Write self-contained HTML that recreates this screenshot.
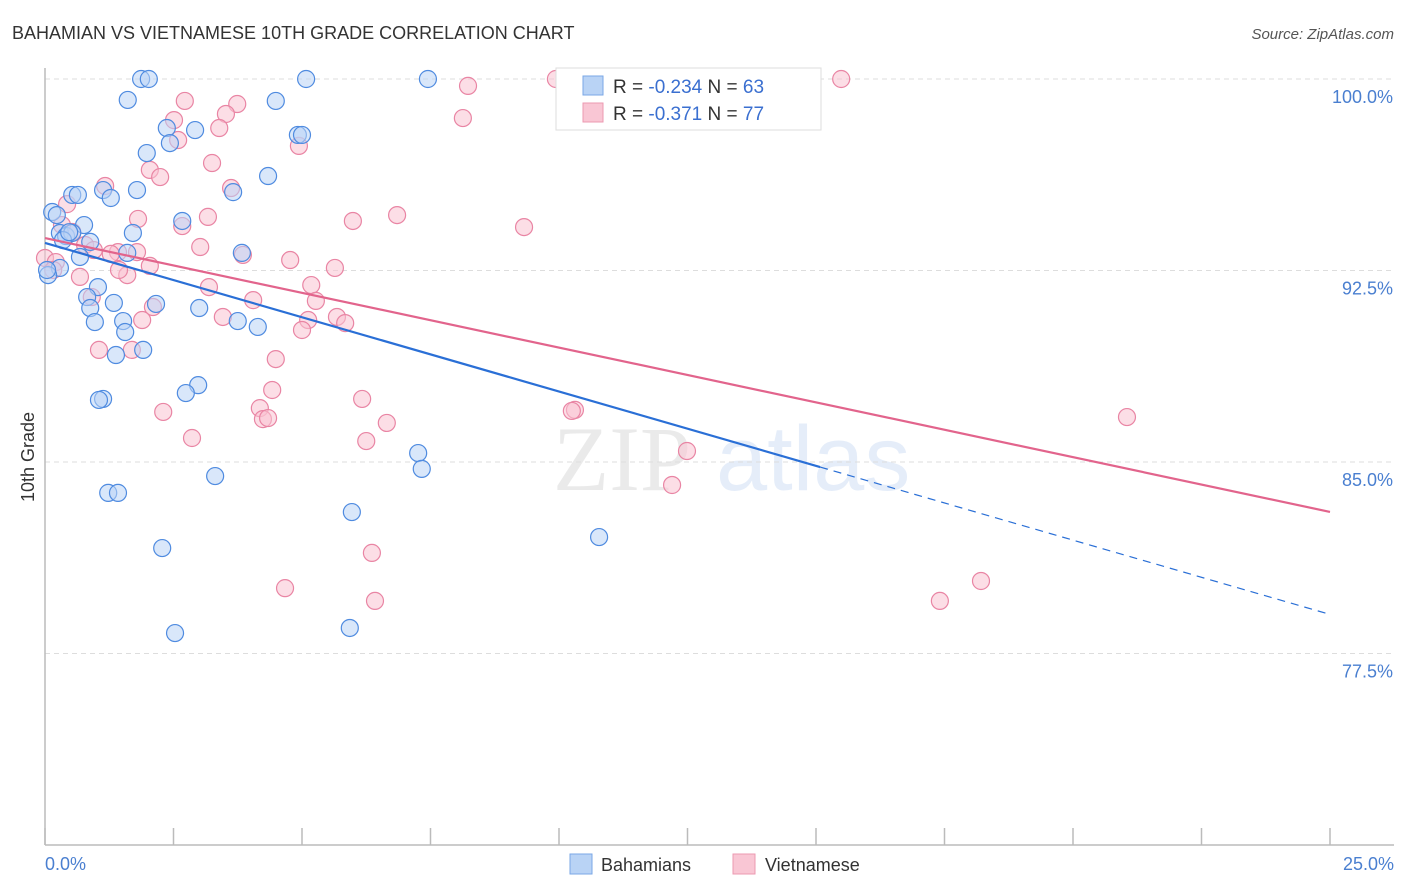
<!DOCTYPE html>
<html><head><meta charset="utf-8"><style>
body{margin:0;background:#fff;font-family:"Liberation Sans",sans-serif}
svg{display:block}
</style></head><body>
<svg id="chart" width="1406" height="892" xmlns="http://www.w3.org/2000/svg" font-family="Liberation Sans, sans-serif">
<text x="12" y="39" font-size="18" fill="#333">BAHAMIAN VS VIETNAMESE 10TH GRADE CORRELATION CHART</text>
<text x="1394" y="39" font-size="15" fill="#555" text-anchor="end" font-style="italic">Source: ZipAtlas.com</text>
<g font-size="92" opacity="0.13"><text x="553" y="490" fill="#666" font-family="Liberation Serif, serif">ZIP</text><text x="716" y="490" fill="#3d7bd6">atlas</text></g>
<g id="grid"></g><g id="ticks"></g>
<line x1="45" y1="68" x2="45" y2="845" stroke="#bbb" stroke-width="1.5"/>
<line x1="45" y1="845" x2="1394" y2="845" stroke="#bbb" stroke-width="1.5"/>
<text transform="translate(34,457) rotate(-90)" font-size="18" fill="#333" text-anchor="middle">10th Grade</text>
<text x="45" y="870" font-size="18" fill="#4a7fd0">0.0%</text>
<text x="1394" y="870" font-size="18" fill="#4a7fd0" text-anchor="end">25.0%</text>
<g id="pts"></g><g id="lines"></g>
<g>
<rect x="556" y="68" width="265" height="62" fill="#fff" stroke="#ddd"/>
<rect x="583" y="76" width="20" height="19" fill="#b9d3f5" stroke="#7aa7e6"/>
<rect x="583" y="103" width="20" height="19" fill="#f9c6d4" stroke="#ec99b1"/>
<text x="613" y="93" font-size="19" fill="#333">R = <tspan fill="#3a6fd0">-0.234</tspan>   N = <tspan fill="#3a6fd0">63</tspan></text>
<text x="613" y="120" font-size="19" fill="#333">R =  <tspan fill="#3a6fd0">-0.371</tspan>   N = <tspan fill="#3a6fd0">77</tspan></text>
</g>
<g><rect x="570" y="854" width="22" height="20" fill="#b9d3f5" stroke="#7aa7e6"/><text x="601" y="871" font-size="18" fill="#333">Bahamians</text></g>
<g><rect x="733" y="854" width="22" height="20" fill="#f9c6d4" stroke="#ec99b1"/><text x="765" y="871" font-size="18" fill="#333">Vietnamese</text></g>
</svg>
<script>
const yTicks=[100,92.5,85,77.5];
const yTickLabels=["100.0%","92.5%","85.0%","77.5%"];
const xTicks=[0,2.5,5,7.5,10,12.5,15,17.5,20,22.5,25];
const bahX=[1.87,2.02,5.08,7.45,1.61,4.49,2.37,2.92,2.43,4.92,5.00,1.98,4.34,1.13,0.53,0.64,1.79,1.28,3.66,0.14,0.23,2.67,0.76,0.29,0.41,0.53,1.71,0.88,0.35,3.83,1.60,0.68,0.29,0.06,1.03,0.82,1.34,2.16,0.88,3.00,1.52,3.75,0.97,4.14,1.56,1.91,1.38,2.98,2.74,1.13,1.05,7.26,7.33,3.31,1.23,1.42,5.97,10.78,2.28,2.53,5.93,0.04,0.47];
const bahY=[100,100,100,100,99.18,99.14,98.08,98.0,97.49,97.81,97.81,97.10,96.20,95.65,95.46,95.46,95.65,95.34,95.57,94.79,94.67,94.44,94.28,93.97,93.85,93.97,93.97,93.62,93.69,93.19,93.19,93.03,92.60,92.32,91.85,91.46,91.23,91.19,91.03,91.03,90.52,90.52,90.48,90.29,90.09,89.39,89.19,88.01,87.70,87.47,87.43,85.35,84.73,84.45,83.79,83.79,83.04,82.06,81.63,78.30,78.50,92.52,94.0];
const vieX=[9.94,15.49,8.23,2.72,3.74,2.51,3.52,8.13,3.39,2.59,4.94,3.25,2.04,2.24,1.17,3.62,0.43,1.81,3.17,5.99,6.85,9.32,2.67,0.53,0.78,1.42,1.79,0.95,1.28,3.02,3.85,4.77,5.64,0.0,0.21,0.68,1.60,1.44,3.19,5.18,4.05,5.27,2.10,3.46,1.89,5.12,5.68,5.84,5.00,1.05,1.69,4.49,4.42,2.30,2.86,4.18,4.24,4.34,6.17,6.65,6.25,10.31,10.25,12.49,12.20,21.05,6.36,4.67,6.42,17.41,18.21,0.16,0.91,0.33,2.04];
const vieY=[100,100,99.73,99.14,99.02,98.39,98.63,98.47,98.08,97.61,97.38,96.71,96.44,96.16,95.81,95.73,95.10,94.52,94.60,94.44,94.67,94.20,94.24,94.01,93.50,93.22,93.22,93.30,93.15,93.42,93.11,92.91,92.60,92.99,92.83,92.25,92.32,92.52,91.85,91.93,91.34,91.31,91.07,90.68,90.56,90.56,90.68,90.44,90.17,89.39,89.39,89.03,87.82,86.96,85.94,87.11,86.68,86.72,87.47,86.53,85.82,87.04,87.00,85.43,84.10,86.76,81.44,80.06,79.56,79.56,80.34,92.52,91.46,94.28,92.68];
const bahLine=[93.58,-0.582]; // intercept, slope
const vieLine=[93.77,-0.429];
const bahSolidEnd=15.08;
const NS="http://www.w3.org/2000/svg";
const X=v=>45+v/25*1285;
const Y=v=>79+(100-v)/30*766;
function mk(tag,attrs,parent){const e=document.createElementNS(NS,tag);for(const k in attrs)e.setAttribute(k,attrs[k]);parent.appendChild(e);return e;}
const grid=document.getElementById('grid'),ticks=document.getElementById('ticks'),pts=document.getElementById('pts'),lines=document.getElementById('lines');
yTicks.forEach((t,i)=>{
 const l=mk('line',{x1:45,x2:1394,y1:Y(t),y2:Y(t),stroke:'#ddd','stroke-dasharray':'5,4'},grid);
 
 
 const tx=mk('text',{x:1393,y:Y(t)+24,'font-size':18,fill:'#4a7fd0','text-anchor':'end'},grid);
 tx.textContent=yTickLabels[i];
 
 
});
xTicks.forEach(t=>{
 const l=mk('line',{x1:X(t),x2:X(t),y1:828,y2:845,stroke:'#bbb','stroke-width':1.5},ticks);
 
 
});
function series(xs,ys,fill,stroke,name){
 xs.forEach((x,i)=>{
  const c=mk('circle',{cx:X(x),cy:Y(ys[i]),r:8.5,fill:fill,'fill-opacity':0.55,stroke:stroke,'stroke-width':1.2},pts);
  
  
 });
}
series(vieX,vieY,'#f9c3d2','#e985a4','point-vietnamese');
series(bahX,bahY,'#b9d3f5','#4f8be0','point-bahamian');
const bl=mk('line',{x1:X(0),y1:Y(bahLine[0]),x2:X(bahSolidEnd),y2:Y(bahLine[0]+bahLine[1]*bahSolidEnd),stroke:'#2a6fd6','stroke-width':2.2},lines);


const bd=mk('line',{x1:X(bahSolidEnd),y1:Y(bahLine[0]+bahLine[1]*bahSolidEnd),x2:X(25),y2:Y(bahLine[0]+bahLine[1]*25),stroke:'#2a6fd6','stroke-width':1.2,'stroke-dasharray':'8,6'},lines);


const vl=mk('line',{x1:X(0),y1:Y(vieLine[0]),x2:X(25),y2:Y(vieLine[0]+vieLine[1]*25),stroke:'#e2648c','stroke-width':2.2},lines);


</script>
</body></html>
